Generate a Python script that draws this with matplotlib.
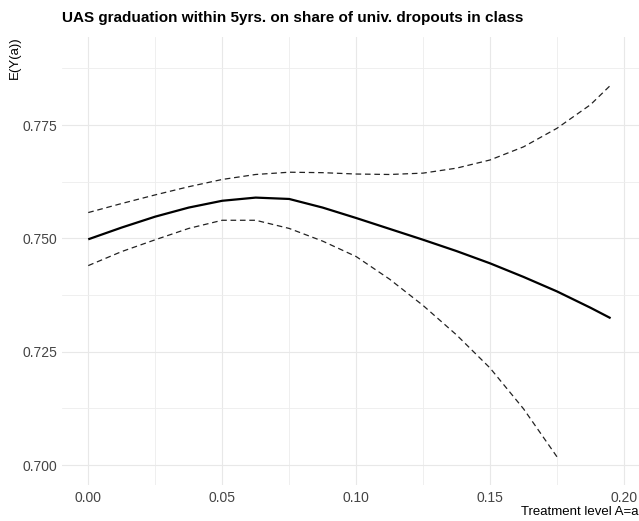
import matplotlib
matplotlib.use("Agg")
import matplotlib.pyplot as plt
from matplotlib.ticker import MultipleLocator

plt.rcParams['font.family'] = ['Liberation Sans', 'DejaVu Sans']

# estimated curve (treatment level a -> E(Y(a)))
a_vals = [0.0, 0.0125, 0.025, 0.0375, 0.05, 0.0625, 0.075, 0.0875, 0.10,
          0.1125, 0.125, 0.1375, 0.15, 0.1625, 0.175, 0.1875, 0.195]
est = [0.7498, 0.7524, 0.7548, 0.7568, 0.7583, 0.7590, 0.7587, 0.7568, 0.7545,
       0.7521, 0.7497, 0.7472, 0.7445, 0.7415, 0.7383, 0.7347, 0.7324]
upper = [0.7557, 0.7577, 0.7596, 0.7614, 0.7630, 0.7641, 0.7646, 0.7645, 0.7642,
         0.7641, 0.7644, 0.7655, 0.7673, 0.7702, 0.7743, 0.7795, 0.7838]
# lower band stops at 0.175
a_low = [0.0, 0.0125, 0.025, 0.0375, 0.05, 0.0625, 0.075, 0.0875, 0.10,
         0.1125, 0.125, 0.1375, 0.15, 0.1625, 0.175]
lower = [0.7440, 0.7471, 0.7497, 0.7522, 0.7540, 0.7540, 0.7522, 0.7494, 0.7460,
         0.7410, 0.7352, 0.7287, 0.7214, 0.7124, 0.7018]

xticks = [0.00, 0.05, 0.10, 0.15, 0.20]
yticks = [0.700, 0.725, 0.750, 0.775]

fig = plt.figure(figsize=(6.39, 5.21), dpi=100)
ax = fig.add_axes([0.0966, 0.0691, 0.9034, 0.8605])

ax.plot(a_vals, est, color='black', lw=1.6, solid_capstyle='butt')
ax.plot(a_vals, upper, color='#222222', lw=0.9, dashes=(4.5, 3))
ax.plot(a_low, lower, color='#222222', lw=0.9, dashes=(4.5, 3))

ax.set_xlim(-0.0099, 0.2056)
ax.set_ylim(0.6956, 0.7945)
ax.set_xticks(xticks)
ax.set_xticklabels(['%.2f' % v for v in xticks])
ax.set_yticks(yticks)
ax.set_yticklabels(['%.3f' % v for v in yticks])
ax.xaxis.set_minor_locator(MultipleLocator(0.025))
ax.yaxis.set_minor_locator(MultipleLocator(0.0125))

ax.grid(which='major', color='#e8e8e8', lw=0.8)
ax.grid(which='minor', color='#ededed', lw=0.6)
ax.set_axisbelow(True)
for s in ax.spines.values():
    s.set_visible(False)
ax.tick_params(which='both', length=0)
ax.tick_params(axis='y', pad=3, labelsize=10, labelcolor='#444444')
ax.tick_params(axis='x', pad=4.5, labelsize=10, labelcolor='#444444')

fig.text(0.0966, 1 - 18 / 521, 'UAS graduation within 5yrs. on share of univ. dropouts in class',
         fontsize=11, fontweight='bold', va='center', ha='left')
fig.text(15 / 639, 1 - 36.7 / 521, 'E(Y(a))', rotation=90, fontsize=9.5,
         va='top', ha='center')
fig.text(0.999, 1 - 512 / 521, 'Treatment level A=a', fontsize=9.5,
         va='center', ha='right')

fig.savefig('out.png', dpi=100)
